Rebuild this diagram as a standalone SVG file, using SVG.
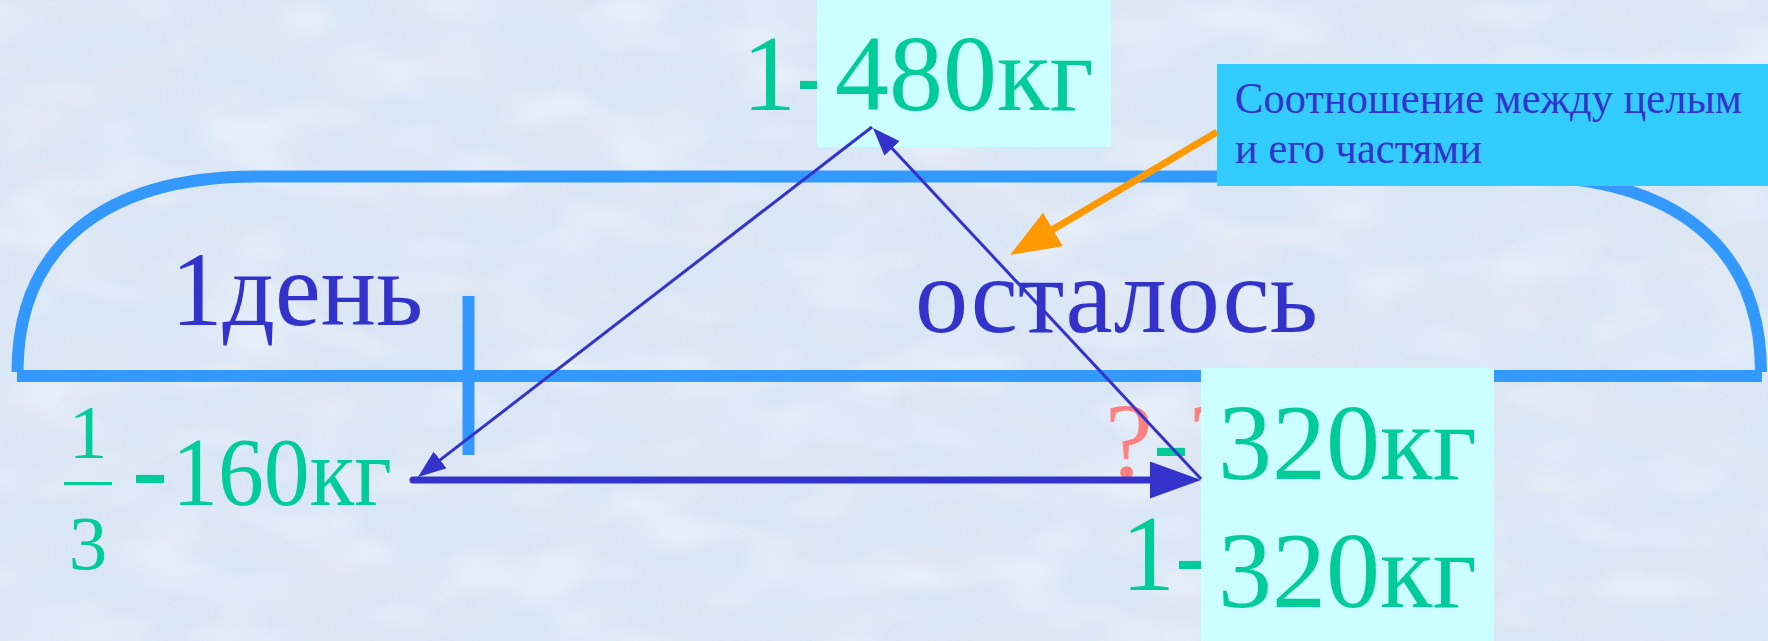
<svg xmlns="http://www.w3.org/2000/svg" width="1768" height="641" viewBox="0 0 1768 641">
<defs>
<style>
.t{font-family:"Liberation Serif","Times New Roman",serif;}
.g{fill:#00CC99}
.b{fill:#3333CC}
.q{fill:#FF8080}
.box{fill:#CCFFFF}
.outline{fill:none;stroke:#3399FF;stroke-width:12}
.thin{stroke:#3333CC;stroke-width:3;fill:none}
.thick{stroke:#3333CC;stroke-width:7;fill:none;stroke-linecap:round}
.orange{stroke:#FF9900;stroke-width:7;fill:none}
</style>
<filter id="noise" filterUnits="userSpaceOnUse" x="0" y="0" width="1768" height="641">
<feTurbulence type="fractalNoise" baseFrequency="0.008 0.018" numOctaves="3" seed="7"/>
<feColorMatrix type="matrix" values="0 0 0 0 0.74  0 0 0 0 0.80  0 0 0 0 0.88  3.0 0 0 0 -1.2"/>
</filter>
<filter id="noise2" filterUnits="userSpaceOnUse" x="0" y="0" width="1768" height="641">
<feTurbulence type="fractalNoise" baseFrequency="0.01 0.02" numOctaves="2" seed="21"/>
<feColorMatrix type="matrix" values="0 0 0 0 0.90  0 0 0 0 0.95  0 0 0 0 1  3.0 0 0 0 -1.4"/>
</filter>
<marker id="headThin" markerUnits="userSpaceOnUse" markerWidth="32" markerHeight="24" refX="18" refY="10.5" orient="auto">
<path d="M0,0 L28,10.5 L0,21 Z" fill="#3333CC"/>
</marker>
<marker id="headThick" markerUnits="userSpaceOnUse" markerWidth="54" markerHeight="40" refX="10" refY="18.5" orient="auto">
<path d="M0,0 L51,18.5 L0,37 Z" fill="#3333CC"/>
</marker>
<marker id="headOrange" markerUnits="userSpaceOnUse" markerWidth="54" markerHeight="42" refX="35" refY="19.5" orient="auto">
<path d="M0,0 L50,19.5 L0,39 Z" fill="#FF9900"/>
</marker>
</defs>

<g id="background">
<rect x="0" y="0" width="1768" height="641" fill="#D9E6F6"/>
<rect x="0" y="0" width="1768" height="641" filter="url(#noise)" opacity="0.85"/>
<rect x="0" y="0" width="1768" height="641" filter="url(#noise2)" opacity="0.45"/>
</g>

<g id="outline">
<path class="outline" d="M17.5,372 C17.5,247 103.4,176.5 257,176.5 L1521,176.5 C1674.6,176.5 1761,247 1761,372"/>
<line class="outline" x1="17" y1="376" x2="1762" y2="376"/>
<rect x="462.5" y="296" width="12" height="159" fill="#3399FF"/>
</g>

<g id="label-day">
<text class="t b" x="171" y="325" font-size="106" textLength="252" lengthAdjust="spacingAndGlyphs">1день</text>
</g>

<g id="label-rest">
<text class="t b" x="915" y="332" font-size="108" textLength="403" lengthAdjust="spacingAndGlyphs">осталось</text>
</g>

<g id="node-whole">
<text class="t g" x="742" y="110" font-size="108">1-</text>
<rect class="box" x="817" y="0" width="294" height="147"/>
<text class="t g" x="835" y="110" font-size="108">480кг</text>
</g>

<g id="node-day">
<text class="t g" x="88" y="458" font-size="77" text-anchor="middle">1</text>
<line x1="64" y1="483.5" x2="112" y2="483.5" stroke="#00CC99" stroke-width="3"/>
<text class="t g" x="88" y="569" font-size="77" text-anchor="middle">3</text>
<text class="t g" x="132" y="504" font-size="108">-</text>
<text class="t g" x="172" y="505" font-size="97" textLength="220" lengthAdjust="spacingAndGlyphs">160кг</text>
</g>

<g id="node-rest">
<text class="t" x="1105" y="477" font-size="108"><tspan class="q">?</tspan><tspan class="g">-</tspan><tspan class="q">?</tspan></text>
<text class="t g" x="1121" y="590" font-size="108">1-</text>
<rect class="box" x="1201" y="368" width="293" height="273"/>
<text class="t g" x="1218" y="479" font-size="108">320кг</text>
<text class="t g" x="1218" y="607" font-size="108">320кг</text>
</g>

<g id="callout">
<rect x="1217" y="64" width="551" height="122" fill="#33CCFF"/>
<text class="t b" x="1235" y="113" font-size="45" textLength="507" lengthAdjust="spacingAndGlyphs">Соотношение между целым</text>
<text class="t b" x="1235" y="163" font-size="45" textLength="247" lengthAdjust="spacingAndGlyphs">и его частями</text>
</g>

<g id="connectors">
<line class="thin" x1="872" y1="127" x2="425.9" y2="470.9" marker-end="url(#headThin)"/>
<line class="thin" x1="1201" y1="479" x2="879.8" y2="135.3" marker-end="url(#headThin)"/>
<line class="thick" x1="413" y1="480" x2="1160" y2="480" marker-end="url(#headThick)"/>
<line class="orange" x1="1217" y1="132" x2="1022.9" y2="247.3" marker-end="url(#headOrange)"/>
</g>
</svg>
